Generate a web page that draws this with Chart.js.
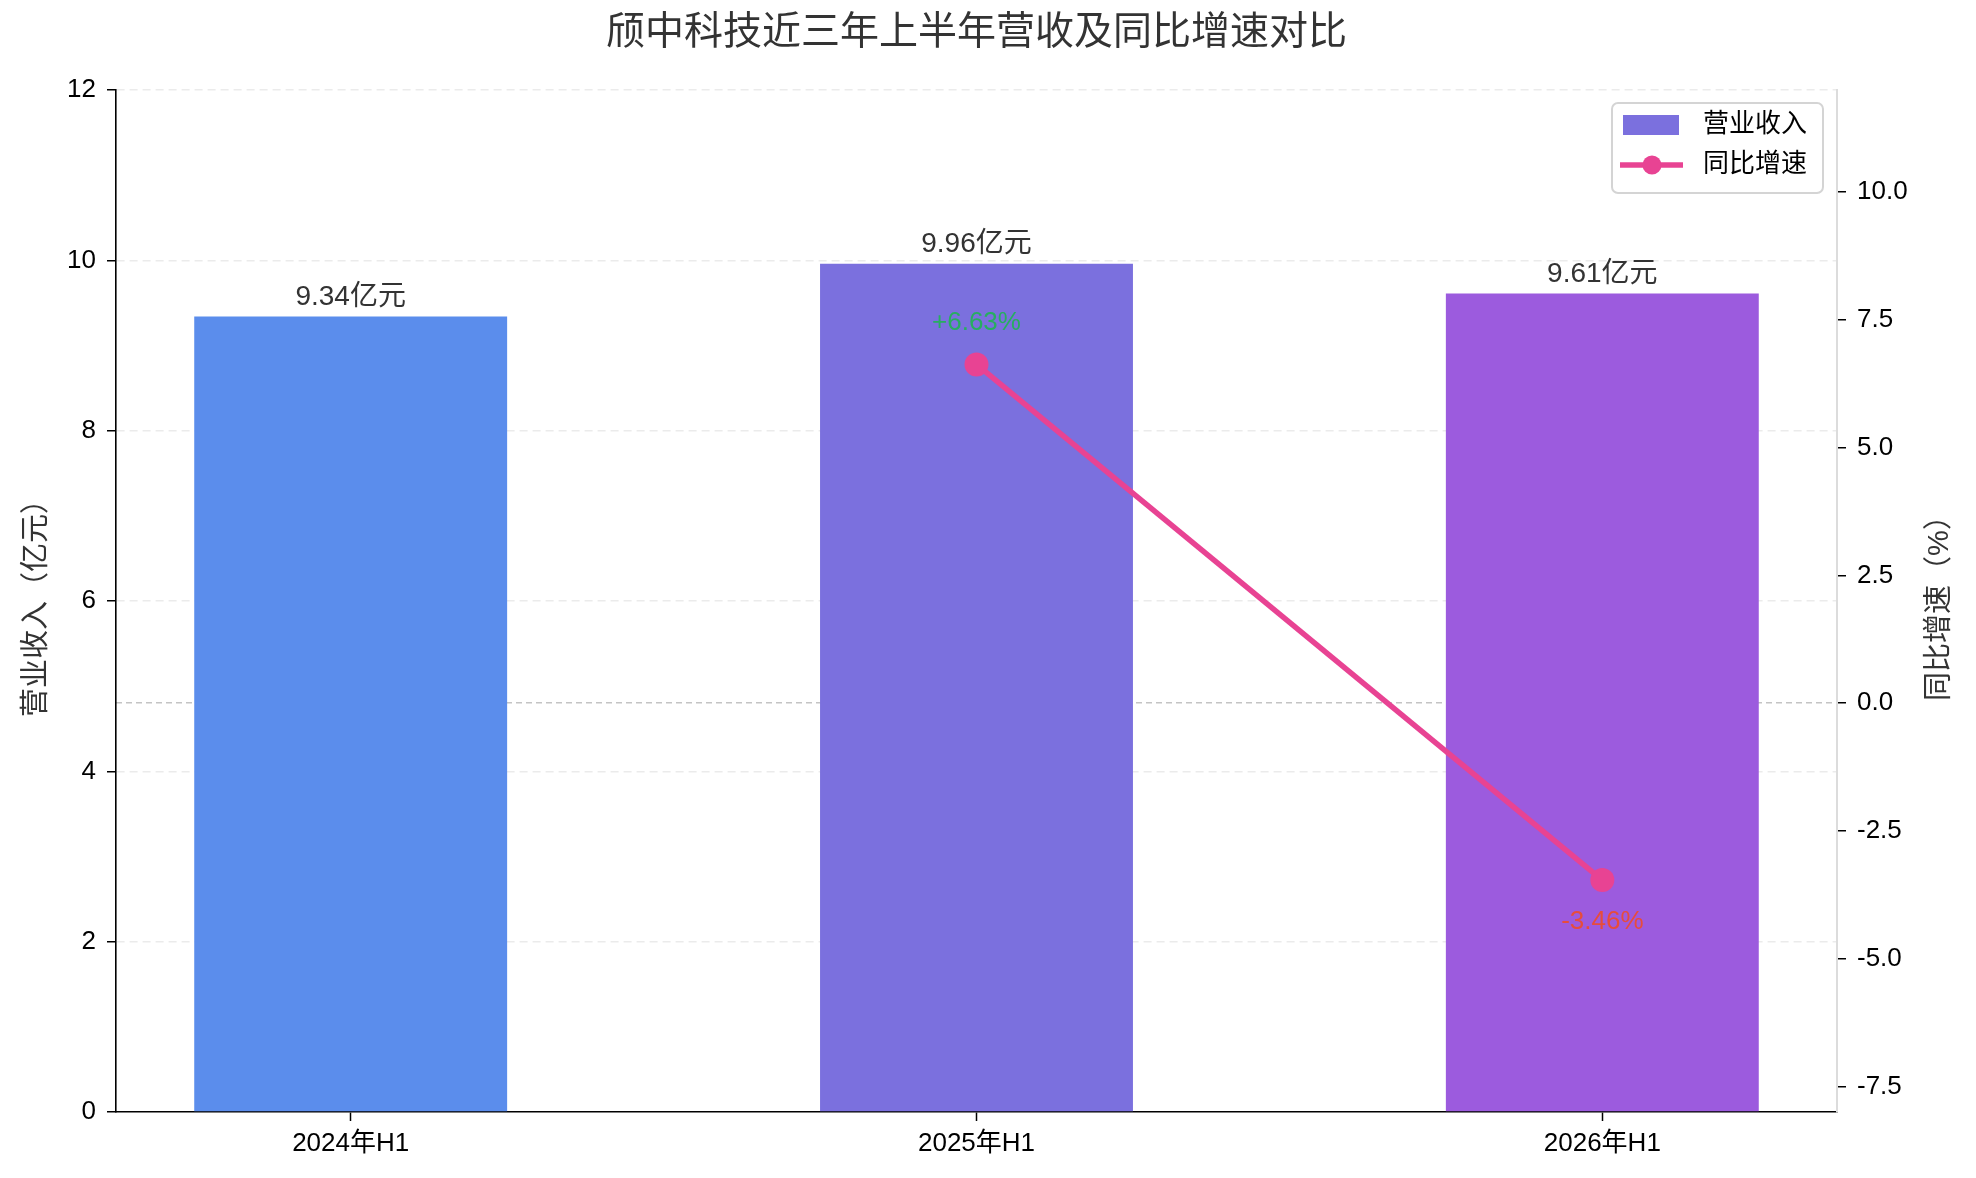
<!DOCTYPE html>
<html>
<head>
<meta charset="utf-8">
<script src="https://cdn.jsdelivr.net/npm/chart.js@4/dist/chart.umd.min.js"></script>
<style>
body{margin:0;background:#fff}
#wrap{width:1976px;height:1178px}
</style>
</head>
<body>
<div id="wrap"><canvas id="c"></canvas></div>
<script>
const periods = ['2024年H1', '2025年H1', '2026年H1'];
const revenue = [9.34, 9.96, 9.61];
const growth = [null, 6.63, -3.46];
const revTicks = [0, 2, 4, 6, 8, 10, 12];
const growthTicks = [-7.5, -5, -2.5, 0, 2.5, 5, 7.5, 10];

const barColors = ['#5B8DEC', '#7B70DE', '#9C5BDE'];
const lineColor = '#E84393';
const FONT = "'Liberation Sans', 'Noto Sans CJK SC', sans-serif";
Chart.defaults.font.family = FONT;

// value labels over bars and points
const labelPlugin = {
    id: 'valueLabels',
    afterDatasetsDraw(chart) {
        const ctx = chart.ctx;
        ctx.save();
        ctx.textAlign = 'center';
        ctx.textBaseline = 'alphabetic';
        ctx.font = '28px ' + FONT;
        ctx.fillStyle = '#333';
        chart.getDatasetMeta(1).data.forEach((b, i) => {
            ctx.fillText(revenue[i].toFixed(2) + '亿元', b.x, b.y - 12);
        });
        ctx.font = '26px ' + FONT;
        ctx.textBaseline = 'middle';
        chart.getDatasetMeta(0).data.forEach((p, i) => {
            const g = growth[i];
            if (g === null) return;
            const up = g >= 0;
            ctx.fillStyle = up ? '#27AE60' : '#E74C3C';
            ctx.fillText((up ? '+' : '') + g.toFixed(2) + '%', p.x, p.y + (up ? -42 : 42));
        });
        ctx.restore();
    }
};

// title, right axis title, boxed legend
const decorPlugin = {
    id: 'decor',
    afterDraw(chart) {
        const {ctx, chartArea} = chart;
        ctx.save();
        ctx.fillStyle = '#333';
        ctx.textAlign = 'center';
        ctx.textBaseline = 'middle';
        ctx.font = '39px ' + FONT;
        ctx.fillText('颀中科技近三年上半年营收及同比增速对比', (chartArea.left + chartArea.right) / 2, 33);

        ctx.font = '29px ' + FONT;
        ctx.translate(1940, (chartArea.top + chartArea.bottom) / 2);
        ctx.rotate(-Math.PI / 2);
        ctx.fillText('同比增速（%）', 0, 0);
        ctx.setTransform(1, 0, 0, 1, 0, 0);

        const x0 = chartArea.right - 225, y0 = chartArea.top + 13;
        ctx.fillStyle = 'rgba(255,255,255,0.85)';
        ctx.strokeStyle = '#d4d4d4';
        ctx.lineWidth = 2;
        ctx.beginPath();
        ctx.roundRect(x0, y0, 211, 90, 6);
        ctx.fill();
        ctx.stroke();

        ctx.fillStyle = barColors[1];
        ctx.fillRect(x0 + 11, y0 + 12, 56, 20);

        const ly = y0 + 62;
        ctx.strokeStyle = lineColor;
        ctx.lineWidth = 5.5;
        ctx.beginPath();
        ctx.moveTo(x0 + 8, ly);
        ctx.lineTo(x0 + 71, ly);
        ctx.stroke();
        ctx.fillStyle = lineColor;
        ctx.beginPath();
        ctx.arc(x0 + 40, ly, 9.5, 0, Math.PI * 2);
        ctx.fill();

        ctx.fillStyle = '#000';
        ctx.textAlign = 'left';
        ctx.font = '26px ' + FONT;
        ctx.fillText(chart.data.datasets[1].label, x0 + 91, y0 + 22);
        ctx.fillText(chart.data.datasets[0].label, x0 + 91, ly);
        ctx.restore();
    }
};

const ctx = document.getElementById('c').getContext('2d');
const chart = new Chart(ctx, {
    data: {
        datasets: [{
            type: 'line',
            label: '同比增速',
            data: periods.map((p, i) => ({x: i, y: growth[i]})),
            yAxisID: 'y1',
            borderColor: lineColor,
            backgroundColor: lineColor,
            borderWidth: 5.5,
            pointRadius: 12,
            pointBorderWidth: 0,
            pointBackgroundColor: lineColor
        }, {
            type: 'bar',
            label: '营业收入',
            data: periods.map((p, i) => ({x: i, y: revenue[i]})),
            yAxisID: 'y',
            backgroundColor: barColors,
            categoryPercentage: 1,
            barPercentage: 0.5
        }]
    },
    options: {
        responsive: true,
        maintainAspectRatio: false,
        devicePixelRatio: 1,
        animation: false,
        layout: {padding: {top: 90, left: 0, right: 0, bottom: 0}},
        plugins: {legend: {display: false}, tooltip: {enabled: false}},
        scales: {
            x: {
                type: 'linear',
                min: -0.375,
                max: 2.375,
                offset: false,
                afterBuildTicks: s => { s.ticks = periods.map((p, i) => ({value: i})); },
                afterFit: s => { s.height = 66; },
                ticks: {
                    callback: v => periods[v],
                    font: {size: 26},
                    color: '#000',
                    padding: 7,
                    autoSkip: false,
                    maxRotation: 0
                },
                grid: {offset: false, drawOnChartArea: false, tickLength: 9, tickColor: '#000', tickWidth: 1.5},
                border: {color: '#000', width: 1.6}
            },
            y: {
                position: 'left',
                min: 0,
                max: 12,
                afterBuildTicks: s => { s.ticks = revTicks.map(v => ({value: v})); },
                afterFit: s => { s.width = 116; },
                ticks: {font: {size: 26}, color: '#000', padding: 11},
                grid: {
                    color: c => (c.tick && c.tick.value === 0) ? 'rgba(0,0,0,0)' : '#ebebeb',
                    lineWidth: 1.5,
                    tickLength: 9,
                    tickColor: '#000',
                    tickWidth: 1.5
                },
                border: {color: '#000', width: 1.6, dash: [8, 5]},
                title: {
                    display: true,
                    text: '营业收入（亿元）',
                    font: {size: 29},
                    color: '#333',
                    padding: {top: 20, bottom: 0}
                }
            },
            y1: {
                position: 'right',
                min: -8,
                max: 12,
                afterBuildTicks: s => { s.ticks = growthTicks.map(v => ({value: v})); },
                afterFit: s => { s.width = 139; },
                ticks: {font: {size: 26}, color: '#000', padding: 11, callback: v => v.toFixed(1)},
                grid: {
                    color: c => (c.tick && c.tick.value === 0) ? '#c4c4c4' : 'rgba(0,0,0,0)',
                    lineWidth: 1.5,
                    tickLength: 9,
                    tickColor: '#000',
                    tickWidth: 1.5
                },
                border: {color: '#dcdcdc', width: 2, dash: [6, 4]}
            }
        }
    },
    plugins: [labelPlugin, decorPlugin]
});
</script>
</body>
</html>
